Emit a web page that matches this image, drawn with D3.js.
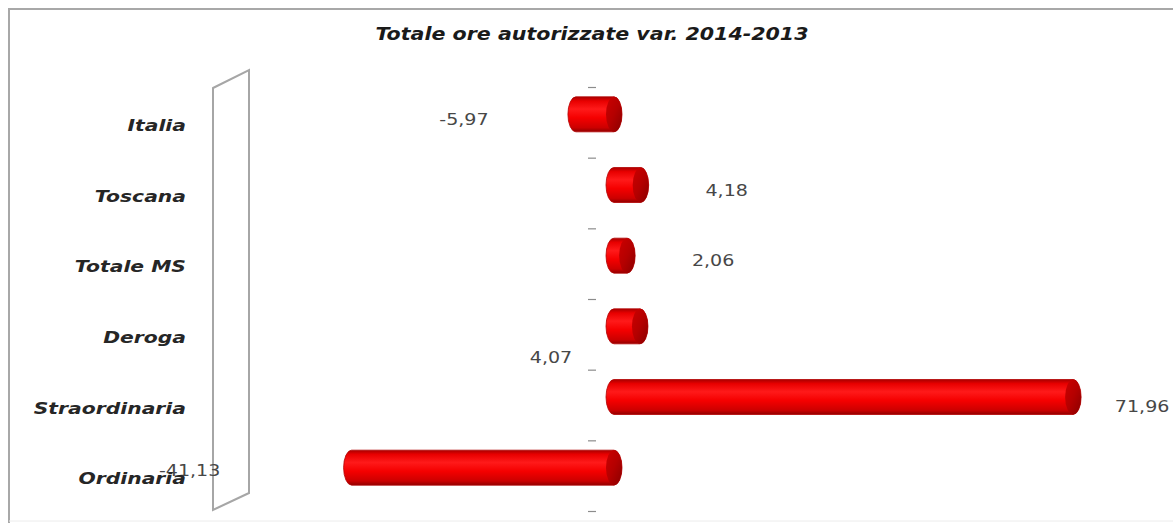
<!DOCTYPE html>
<html>
<head>
<meta charset="utf-8">
<script src="https://cdn.jsdelivr.net/npm/d3@7"></script>
<style>
  html, body { margin: 0; padding: 0; background: #fff; }
  svg { display: block; }
</style>
</head>
<body>
<svg id="chart" width="1173" height="523"></svg>
<script>
// Categories top to bottom and their change 2014 vs 2013 (%)
const categories = ["Italia", "Toscana", "Totale MS", "Deroga", "Straordinaria", "Ordinaria"];
const values = [-5.97, 4.18, 2.06, 4.07, 71.96, -41.13];
const valueLabels = ["-5,97", "4,18", "2,06", "4,07", "71,96", "-41,13"];
const titleText = "Totale ore autorizzate var. 2014-2013";

// Where each data label sits relative to the end of its bar (layout only)
const labelOffsets = [
  { dx: -112, dy: -3 },
  { dx: 86, dy: -2 },
  { dx: 86, dy: -3 },
  { dx: -89, dy: 23 },
  { dx: 69, dy: 2 },
  { dx: -162, dy: -5 }
];

const svg = d3.select("#chart");
const W = 1173, H = 523;
const stretch = 1.27;          // horizontal text stretch
const capRx = 8;               // half-width of the cylinder end ellipse
const depthShift = 8;          // bars sit up from the band centre (3D depth)

// Chart area frame
svg.append("path")
  .attr("d", `M9,${H} L9,9 L${W},9`)
  .attr("fill", "none").attr("stroke", "#a8a8a8").attr("stroke-width", 2);
svg.append("line")
  .attr("x1", 9).attr("x2", W).attr("y1", 521).attr("y2", 521)
  .attr("stroke", "#ececec").attr("stroke-width", 1);

// Scales
const x = d3.scaleLinear().domain([-45, 80]).range([614 - 45 * 6.38, 614 + 80 * 6.38]);
const y = d3.scaleBand().domain(categories).range([87, 511]).padding(0);
const yEdge = d3.scaleLinear().domain([0, categories.length]).range([87, 511]);
const bw = y.bandwidth();
const barH = 35;

// Title
svg.append("text")
  .attr("transform", `translate(592,33)`)
  .attr("text-anchor", "middle")
  .attr("dominant-baseline", "central")
  .attr("font-family", "'Liberation Sans Narrow', 'DejaVu Sans Condensed', sans-serif")
  .attr("font-style", "italic")
  .attr("font-weight", "bold")
  .attr("font-size", 18.5)
  .attr("fill", "#1a1a1a")
  .attr("textLength", 433)
  .attr("lengthAdjust", "spacingAndGlyphs")
  .text(titleText);

// Side wall of the 3D plot area
svg.append("path")
  .attr("d", "M213,88 L249,70 L249,493 L213,510 Z")
  .attr("fill", "none").attr("stroke", "#a6a6a6").attr("stroke-width", 2);

// Category axis tick marks at band boundaries
const axis = d3.axisLeft(yEdge)
  .tickValues(d3.range(0, categories.length + 1))
  .tickSize(8)
  .tickFormat("");
const axisG = svg.append("g").attr("transform", "translate(596,0)").call(axis);
axisG.select(".domain").remove();
axisG.selectAll(".tick line").attr("stroke", "#8c8c8c").attr("stroke-width", 1.2);

// Gradients for the cylinders
const defs = svg.append("defs");
const body = defs.append("linearGradient").attr("id", "cylBody")
  .attr("x1", 0).attr("y1", 0).attr("x2", 0).attr("y2", 1);
[[0, "#a80000"], [0.12, "#e80000"], [0.35, "#ff1a1a"], [0.6, "#f50000"], [0.88, "#cc0000"], [1, "#900000"]]
  .forEach(([o, c]) => body.append("stop").attr("offset", o).attr("stop-color", c));
const cap = defs.append("linearGradient").attr("id", "cylCap")
  .attr("x1", 0).attr("y1", 0).attr("x2", 1).attr("y2", 1);
[[0, "#cc0000"], [0.5, "#b40000"], [1, "#8a0000"]]
  .forEach(([o, c]) => cap.append("stop").attr("offset", o).attr("stop-color", c));

// Value labels (drawn before category names so names stay on top)
categories.forEach((c, i) => {
  const v = values[i];
  const cy = y(c) + bw / 2;
  svg.append("text")
    .attr("transform", `translate(${x(v) + labelOffsets[i].dx},${cy + labelOffsets[i].dy}) scale(${stretch},1)`)
    .attr("text-anchor", "middle")
    .attr("dominant-baseline", "central")
    .attr("font-family", "'DejaVu Sans', Verdana, sans-serif")
    .attr("font-size", 15)
    .attr("fill", "#474747")
    .text(valueLabels[i]);
});

// Cylinders
const bars = svg.append("g");
categories.forEach((c, i) => {
  const v = values[i];
  const cy = y(c) + bw / 2 - depthShift;
  const top = cy - barH / 2, bot = cy + barH / 2, ry = barH / 2;
  const xl = x(Math.min(0, v)), xr = x(Math.max(0, v));
  bars.append("path")
    .attr("d", `M${xl},${top} L${xr},${top} A${capRx},${ry} 0 0 1 ${xr},${bot} L${xl},${bot} A${capRx},${ry} 0 0 1 ${xl},${top} Z`)
    .attr("fill", "url(#cylBody)")
    .attr("stroke", "#b30000").attr("stroke-width", 0.8);
  bars.append("ellipse")
    .attr("cx", xr).attr("cy", cy).attr("rx", capRx).attr("ry", ry)
    .attr("fill", "url(#cylCap)");
});

// Category names
categories.forEach((c) => {
  svg.append("text")
    .attr("transform", `translate(186,${y(c) + bw / 2 + 3}) scale(${stretch},1)`)
    .attr("text-anchor", "end")
    .attr("dominant-baseline", "central")
    .attr("font-family", "'DejaVu Sans', Verdana, sans-serif")
    .attr("font-style", "italic")
    .attr("font-weight", "bold")
    .attr("font-size", 16)
    .attr("fill", "#262626")
    .text(c);
});
</script>
</body>
</html>
